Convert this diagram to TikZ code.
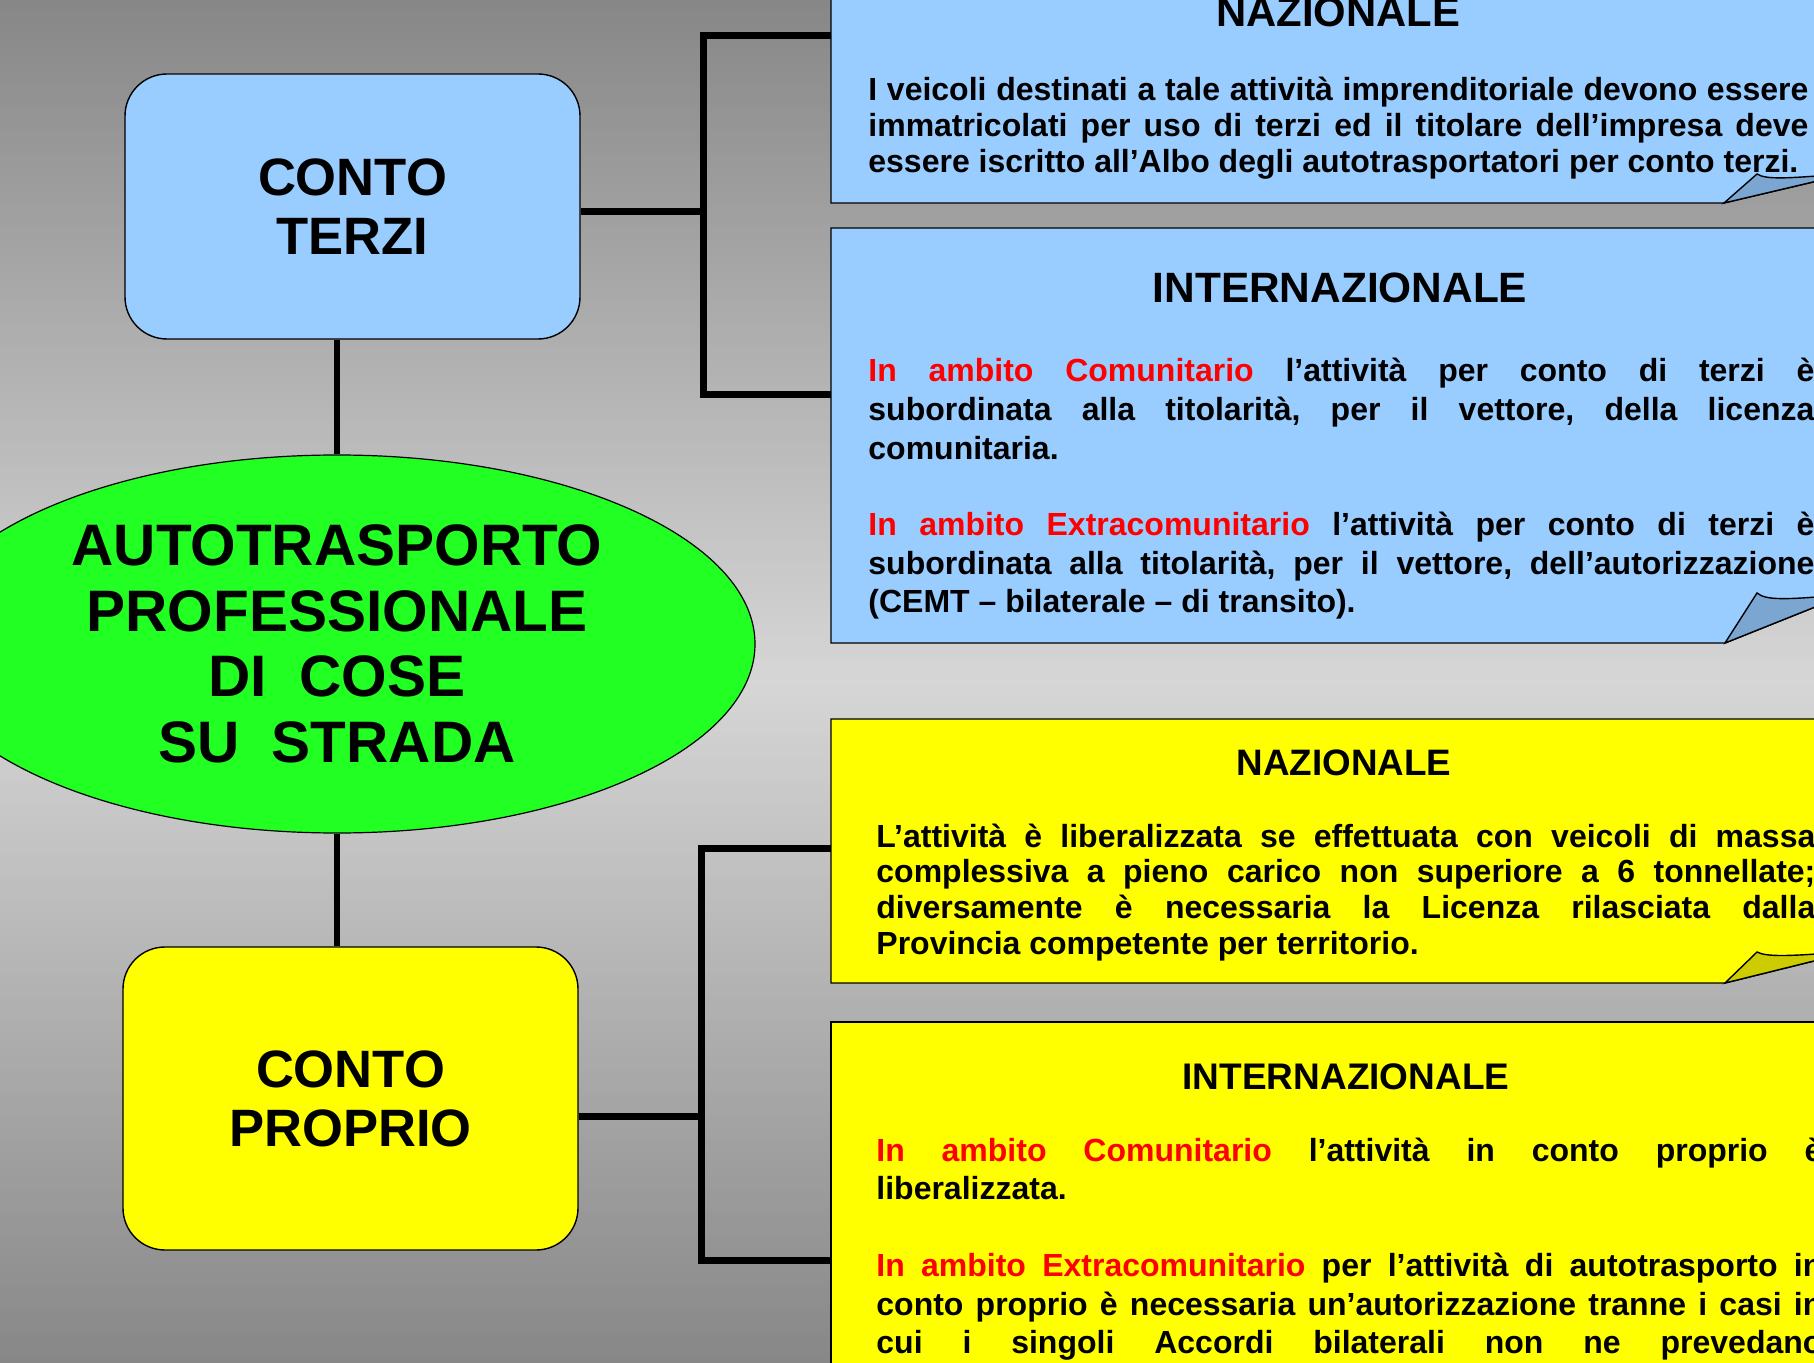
\documentclass[tikz,border=0pt]{standalone}
\usepackage{fontspec}
\setmainfont{Liberation Sans}
\usetikzlibrary{shapes.geometric}
\definecolor{bgdark}{HTML}{878787}
\definecolor{bglight}{HTML}{D6D6D6}
\definecolor{boxblue}{HTML}{99CCFF}
\definecolor{foldblue}{HTML}{7BA6D1}
\definecolor{boxyellow}{HTML}{FFFF00}
\definecolor{foldyellow}{HTML}{CCCC00}
\definecolor{ellgreen}{HTML}{22FF22}
\definecolor{txtred}{HTML}{FF0000}
\newcommand\jl[1]{\hbox to\hsize{#1}}
\newcommand\nl[1]{\hbox{#1}}
\newcommand\rd[1]{\textcolor{txtred}{#1}}
\begin{document}
\begin{tikzpicture}[x=0.5pt,y=-0.5pt,
  bracketline/.style={line width=3.5pt},
  conn/.style={line width=3pt},
  edgeline/.style={draw=black,line width=0.7pt,line join=miter},
  roundbox/.style={draw=black,line width=0.7pt,rectangle,rounded corners=21pt,inner sep=0pt,align=center,
    minimum width=227.5pt,font=\fontsize{26.3}{29.5}\selectfont\bfseries},
  titletext/.style={anchor=base,inner sep=0pt},
  bodytext/.style={anchor=base west,inner sep=0pt},
]
\useasboundingbox (0,0) rectangle (1814,1363);
\clip (0,0) rectangle (1814,1363);
% vertical background gradient (dark - light - dark), drawn as strips
\foreach \i in {0,...,227} {
  \pgfmathsetmacro\yy{\i*6}
  \pgfmathsetmacro\pp{100*(1-abs(\yy+3-681.5)/681.5)}
  \fill[bglight!\pp!bgdark] (0,\yy) rectangle (1814,\yy+6.6);
}

% main nodes
\node[ellipse, draw=black, line width=0.6pt, fill=ellgreen, minimum width=418pt, minimum height=189pt,
      inner sep=0pt, align=center, font=\fontsize{29.25}{32.75}\selectfont\bfseries] (ell) at (337,644)
  {AUTOTRASPORTO\\PROFESSIONALE\\DI\ \ COSE\\SU\ \ STRADA};
\node[roundbox, fill=boxblue, minimum height=132.5pt] (terzi) at (352.5,206.5) {CONTO\\TERZI};
\node[roundbox, fill=boxyellow, minimum height=151.5pt] (proprio) at (350.5,1098.5) {CONTO\\PROPRIO};

% connector coordinates
\coordinate (tb) at (703,212);
\coordinate (tt) at (703,36);
\coordinate (tbot) at (703,395);
\coordinate (n1) at (831,36);
\coordinate (i1) at (831,395);
\coordinate (pb) at (701,1116);
\coordinate (pt) at (701,848);
\coordinate (pbot) at (701,1260);
\coordinate (n2) at (831,848);
\coordinate (i2) at (831,1260);

\draw[conn] (ell.north) -- (ell.north |- terzi.south);
\draw[conn] (ell.south) -- (ell.south |- proprio.north);
\draw[bracketline] (terzi.east |- tb) -- (tb);
\draw[bracketline] (n1) -- (tt) -- (tbot) -- (i1);
\draw[bracketline] (proprio.east |- pb) -- (pb);
\draw[bracketline] (n2) -- (pt) -- (pbot) -- (i2);

% text boxes (shapes)
\draw[edgeline, fill=boxblue] (831,-20) -- (1830,-20) -- (1830,178) -- (1724,203) -- (831,203) -- cycle;
\draw[edgeline, fill=foldblue] (1724,203) -- (1757,174) .. controls (1766,180) and (1790,178) .. (1830,175) -- (1830,178) -- cycle;

\draw[edgeline, fill=boxblue] (831,228) -- (1830,228) -- (1830,601) -- (1725,643) -- (831,643) -- cycle;
\draw[edgeline, fill=foldblue] (1725,643) -- (1757,593) .. controls (1766,601) and (1790,599) .. (1830,596) -- (1830,601) -- cycle;

\draw[edgeline, fill=boxyellow] (831,719) -- (1830,719) -- (1830,957) -- (1725,983) -- (831,983) -- cycle;
\draw[edgeline, fill=foldyellow] (1725,983) -- (1757,952) .. controls (1766,957) and (1790,956) .. (1830,953) -- (1830,957) -- cycle;

\draw[edgeline, fill=boxyellow] (831,1022) -- (1830,1022) -- (1830,1400) -- (831,1400) -- cycle;

% titles
\node[titletext, font=\fontsize{20.9}{25}\selectfont\bfseries] (title1) at (1338,27) {NAZIONALE};
\node[titletext, font=\fontsize{21.2}{25}\selectfont\bfseries] (title2) at (1340,303) {INTERNAZIONALE};
\node[titletext, font=\fontsize{18.4}{22}\selectfont\bfseries] (title3) at (1344,775) {NAZIONALE};
\node[titletext, font=\fontsize{18.5}{22}\selectfont\bfseries] (title4) at (1346,1089) {INTERNAZIONALE};

% body texts
\node[bodytext, font=\fontsize{16}{17.9}\selectfont\bfseries\frenchspacing] (body1) at (868,101) {\vtop{\hsize=470pt
\jl{I veicoli destinati a tale attività imprenditoriale devono essere}
\jl{immatricolati per uso di terzi ed il titolare dell’impresa deve}
\nl{essere iscritto all’Albo degli autotrasportatori per conto terzi.}}};

\node[bodytext, font=\fontsize{16}{19.3}\selectfont\bfseries\frenchspacing] (body2) at (868,382) {\vtop{\hsize=473pt
\jl{\rd{In ambito Comunitario} l’attività per conto di terzi è}
\jl{subordinata alla titolarità, per il vettore, della licenza}
\nl{comunitaria.}
\vskip 19pt
\jl{\rd{In ambito Extracomunitario} l’attività per conto di terzi è}
\jl{subordinata alla titolarità, per il vettore, dell’autorizzazione}
\nl{(CEMT – bilaterale – di transito).}}};

\node[bodytext, font=\fontsize{16}{17.9}\selectfont\bfseries\frenchspacing] (body3) at (876,847) {\vtop{\hsize=469.5pt
\jl{L’attività è liberalizzata se effettuata con veicoli di massa}
\jl{complessiva a pieno carico non superiore a 6 tonnellate;}
\jl{diversamente è necessaria la Licenza rilasciata dalla}
\nl{Provincia competente per territorio.}}};

\node[bodytext, font=\fontsize{16}{19.25}\selectfont\bfseries\frenchspacing] (body4) at (876,1161) {\vtop{\hsize=473pt
\jl{\rd{In ambito Comunitario} l’attività in conto proprio è}
\nl{liberalizzata.}
\vskip 19.3pt
\jl{\rd{In ambito Extracomunitario} per l’attività di autotrasporto in}
\jl{conto proprio è necessaria un’autorizzazione tranne i casi in}
\jl{cui i singoli Accordi bilaterali non ne prevedano}}};
\end{tikzpicture}
\end{document}
